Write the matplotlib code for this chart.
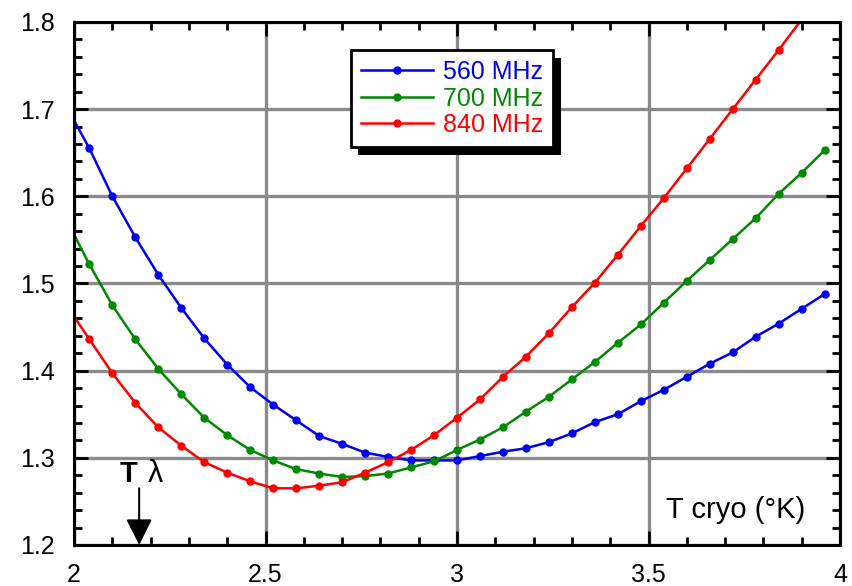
import matplotlib
matplotlib.use('Agg')
import matplotlib.pyplot as plt
import matplotlib.patheffects as pe
from matplotlib.ticker import MultipleLocator

plt.rcParams['font.family'] = ['Liberation Sans', 'DejaVu Sans']

# temperatur (K), ett punkt hver 0.06
t_cryo = [1.98, 2.04, 2.10, 2.16, 2.22, 2.28, 2.34, 2.40, 2.46, 2.52, 2.58,
          2.64, 2.70, 2.76, 2.82, 2.88, 2.94, 3.00, 3.06, 3.12, 3.18, 3.24,
          3.30, 3.36, 3.42, 3.48, 3.54, 3.60, 3.66, 3.72, 3.78, 3.84, 3.90, 3.96]

v_560 = [1.703, 1.655, 1.600, 1.553, 1.510, 1.472, 1.437, 1.407, 1.381, 1.361, 1.343,
         1.325, 1.316, 1.306, 1.301, 1.297, 1.297, 1.297, 1.302, 1.307, 1.311, 1.318,
         1.328, 1.341, 1.350, 1.365, 1.378, 1.393, 1.408, 1.421, 1.439, 1.454, 1.471, 1.488]

v_700 = [1.573, 1.522, 1.475, 1.436, 1.402, 1.373, 1.346, 1.326, 1.309, 1.297, 1.287,
         1.282, 1.278, 1.279, 1.282, 1.289, 1.296, 1.309, 1.321, 1.335, 1.353, 1.370,
         1.390, 1.410, 1.432, 1.453, 1.478, 1.503, 1.527, 1.551, 1.575, 1.603, 1.627, 1.653]

v_840 = [1.475, 1.436, 1.397, 1.363, 1.335, 1.314, 1.295, 1.283, 1.273, 1.265, 1.265,
         1.268, 1.272, 1.283, 1.295, 1.309, 1.326, 1.346, 1.367, 1.393, 1.416, 1.443,
         1.473, 1.501, 1.533, 1.566, 1.598, 1.632, 1.666, 1.700, 1.734, 1.768, 1.803, 1.838]

series = [('560 MHz', v_560, '#0000ee'),
          ('700 MHz', v_700, '#008800'),
          ('840 MHz', v_840, '#ff0000')]

t_lambda = 2.17

fig = plt.figure(figsize=(8.53, 5.86), dpi=100)
ax = fig.add_axes([0.0868, 0.070, 0.898, 0.8925])

for label, vals, col in series:
    ax.plot(t_cryo, vals, color=col, lw=1.8, marker='o', ms=5, label=label)

ax.set_xlim(2, 4)
ax.set_ylim(1.2, 1.8)
ax.xaxis.set_major_locator(MultipleLocator(0.5))
ax.xaxis.set_minor_locator(MultipleLocator(0.1))
ax.yaxis.set_major_locator(MultipleLocator(0.1))
ax.yaxis.set_minor_locator(MultipleLocator(0.02))
ax.xaxis.set_major_formatter(plt.FuncFormatter(lambda v, p: f'{v:g}'))
ax.yaxis.set_major_formatter(plt.FuncFormatter(lambda v, p: f'{v:.1f}'))

ax.tick_params(which='both', direction='in', top=True, right=True, color='k')
ax.tick_params(which='major', length=10, width=2, labelsize=18)
ax.tick_params(axis='x', which='major', pad=13)
ax.tick_params(axis='y', which='major', pad=14)
ax.tick_params(which='minor', length=6, width=2)
for s in ax.spines.values():
    s.set_linewidth(2.2)

ax.grid(True, which='major', color='#8a8a8a', lw=2.4)
ax.set_axisbelow(True)

leg = ax.legend(loc='upper left', bbox_to_anchor=(0.361, 0.946), borderaxespad=0,
                fontsize=18, labelcolor='linecolor', handlelength=2.9,
                handletextpad=0.4, borderpad=0.4, labelspacing=0.1,
                fancybox=False, framealpha=1, edgecolor='k')
leg.get_frame().set_linewidth(2)
leg.get_frame().set_path_effects([
    pe.SimplePatchShadow(offset=(5.5, -5.5), shadow_rgbFace='k', alpha=1),
    pe.Normal()])

ax.annotate('', xy=(t_lambda, 1.2), xytext=(t_lambda, 1.265),
            arrowprops=dict(arrowstyle='-|>,head_length=0.8,head_width=0.4',
                            color='k', lw=1.5, mutation_scale=20,
                            shrinkA=0, shrinkB=0))
ax.text(2.12, 1.272, 'T', fontsize=21, fontweight='bold', ha='left', va='baseline')
ax.text(2.193, 1.272, 'λ', fontsize=22, ha='left', va='baseline')
ax.text(3.728, 1.231, 'T cryo (°K)', fontsize=21, ha='center', va='baseline')

fig.savefig('out.png', dpi=100)
